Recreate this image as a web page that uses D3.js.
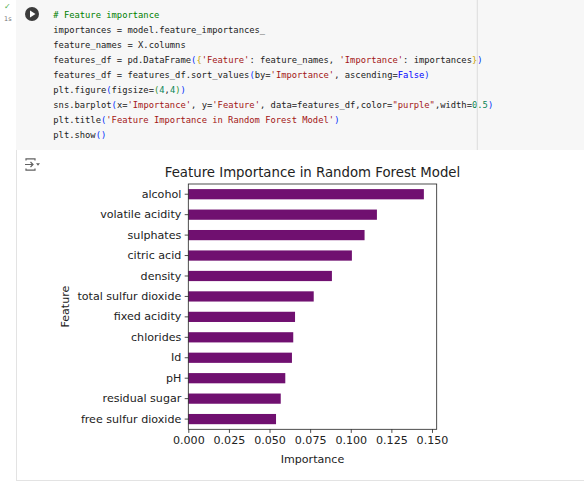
<!DOCTYPE html>
<html>
<head>
<meta charset="utf-8">
<script src="https://cdn.jsdelivr.net/npm/d3@7"></script>
<style>
  html, body { margin: 0; padding: 0; background: #ffffff; }
  svg { display: block; }
  .code text { white-space: pre; }
</style>
</head>
<body>
<svg id="chart" width="584" height="481"></svg>
<script>
// ---------- data ----------
const features = ["alcohol", "volatile acidity", "sulphates", "citric acid", "density",
  "total sulfur dioxide", "fixed acidity", "chlorides", "Id", "pH",
  "residual sugar", "free sulfur dioxide"];
const importances = [0.1450, 0.1161, 0.1085, 0.1007, 0.0884, 0.0772,
  0.0657, 0.0646, 0.0638, 0.0597, 0.0569, 0.0540];
const xTicks = [0.000, 0.025, 0.050, 0.075, 0.100, 0.125, 0.150];
const chartTitle = "Feature Importance in Random Forest Model";
const xLabel = "Importance";
const yLabel = "Feature";

// code cell text: [text, kind]
const codeLines = [
  [["# Feature importance", "c"]],
  [["importances = model.feature_importances_", "d"]],
  [["feature_names = X.columns", "d"]],
  [["features_df = pd.DataFrame", "d"], ["(", "b1"], ["{", "b3"], ["'Feature'", "s"], [": feature_names, ", "d"], ["'Importance'", "s"], [": importances", "d"], ["}", "b3"], [")", "b1"]],
  [["features_df = features_df.sort_values", "d"], ["(", "b1"], ["by=", "d"], ["'Importance'", "s"], [", ascending=", "d"], ["False", "k"], [")", "b1"]],
  [["plt.figure", "d"], ["(", "b1"], ["figsize=", "d"], ["(", "b2"], ["4", "n"], [",", "d"], ["4", "n"], [")", "b2"], [")", "b1"]],
  [["sns.barplot", "d"], ["(", "b1"], ["x=", "d"], ["'Importance'", "s"], [", y=", "d"], ["'Feature'", "s"], [", data=features_df,color=", "d"], ["\"purple\"", "s"], [",width=", "d"], ["0.5", "n"], [")", "b1"]],
  [["plt.title", "d"], ["(", "b1"], ["'Feature Importance in Random Forest Model'", "s"], [")", "b1"]],
  [["plt.show", "d"], ["(", "b1"], [")", "b1"]]
];
const tokenColor = { d: "#212121", c: "#008000", s: "#a31515", n: "#098658", k: "#0000ff",
  b1: "#0431fa", b2: "#319331", b3: "#c7a200" };

const svg = d3.select("#chart");

// ---------- notebook chrome ----------
svg.append("rect").attr("x", 16).attr("y", 0).attr("width", 568).attr("height", 150).attr("fill", "#f7f7f7");
// output area border
svg.append("line").attr("x1", 16.5).attr("x2", 16.5).attr("y1", 150).attr("y2", 480).attr("stroke", "#e3e3e3");
svg.append("line").attr("x1", 16).attr("x2", 584).attr("y1", 480.5).attr("y2", 480.5).attr("stroke", "#e3e3e3");

// execution check + time
svg.append("text").attr("x", 4).attr("y", 9).attr("font-family", "DejaVu Sans").attr("font-size", 8)
  .attr("fill", "#4caf50").text("✓");
svg.append("text").attr("x", 4).attr("y", 21).attr("font-family", "DejaVu Sans").attr("font-size", 6.5)
  .attr("fill", "#757575").text("1s");
// run button
svg.append("circle").attr("cx", 32).attr("cy", 14).attr("r", 7).attr("fill", "#3c3c3c");
svg.append("path").attr("d", "M30,10.5 L30,17.5 L35.5,14 Z").attr("fill", "#ffffff");

// code text
const cw = 5.3, codeX = 53.3, codeFont = 8.8;
const code = svg.append("g").attr("class", "code");
codeLines.forEach((toks, i) => {
  const t = code.append("text")
    .attr("x", codeX).attr("y", 17.8 + i * 15.08)
    .attr("font-family", "DejaVu Sans Mono").attr("font-size", codeFont);
  let col = 0;
  toks.forEach(([txt, k]) => {
    t.append("tspan").attr("x", codeX + col * cw).attr("fill", tokenColor[k]).text(txt);
    col += txt.length;
  });
});
// ruler at column 80
svg.append("line").attr("x1", codeX + 80 * cw).attr("x2", codeX + 80 * cw)
  .attr("y1", 0).attr("y2", 150).attr("stroke", "#dcdcdc").attr("stroke-width", 1);

// output icon
const icon = svg.append("g").attr("fill", "none").attr("stroke", "#616161").attr("stroke-width", 1.2);
icon.append("path").attr("d", "M26,160.5 V158.8 H35 V160.5");
icon.append("path").attr("d", "M25,164.5 H33 M30.5,162 L33,164.5 L30.5,167");
icon.append("path").attr("d", "M26,168.5 V170.2 H35 V168.5");
svg.append("path").attr("d", "M36,163.3 L40,163.3 L38,165.8 Z").attr("fill", "#616161");

// ---------- chart ----------
const axL = 188.3, axR = 436.7, axT = 184, axB = 429.3;
const x = d3.scaleLinear().domain([0, 0.1529]).range([axL, axR]);
const y = d3.scaleBand().domain(features).range([axT, axB]).paddingInner(0.5).paddingOuter(0.25);

const font = "DejaVu Sans";
const tickFs = 11.1;

svg.append("g").selectAll("rect").data(features).join("rect")
  .attr("x", x(0))
  .attr("y", d => y(d))
  .attr("width", (d, i) => x(importances[i]) - x(0))
  .attr("height", y.bandwidth())
  .attr("fill", "#701070");

// axes
const xAxis = svg.append("g").attr("transform", `translate(0,${axB})`)
  .call(d3.axisBottom(x).tickValues(xTicks).tickFormat(d3.format(".3f")).tickSize(3.6).tickPadding(3.2));
const yAxis = svg.append("g").attr("transform", `translate(${axL},0)`)
  .call(d3.axisLeft(y).tickSize(3.6).tickPadding(3.4));
[xAxis, yAxis].forEach(g => {
  g.select(".domain").remove();
  g.selectAll(".tick line").attr("stroke", "#222").attr("stroke-width", 0.8);
  g.selectAll(".tick text").attr("font-family", font).attr("font-size", tickFs).attr("fill", "#222");
});

// spines
svg.append("rect").attr("x", axL).attr("y", axT).attr("width", axR - axL).attr("height", axB - axT)
  .attr("fill", "none").attr("stroke", "#222").attr("stroke-width", 0.8);

// title and labels
svg.append("text").attr("x", (axL + axR) / 2).attr("y", 177).attr("text-anchor", "middle")
  .attr("font-family", font).attr("font-size", 13.3).attr("fill", "#222").text(chartTitle);
svg.append("text").attr("x", (axL + axR) / 2).attr("y", 463).attr("text-anchor", "middle")
  .attr("font-family", font).attr("font-size", tickFs).attr("fill", "#222").text(xLabel);
svg.append("text").attr("transform", `translate(69,${(axT + axB) / 2}) rotate(-90)`).attr("text-anchor", "middle")
  .attr("font-family", font).attr("font-size", tickFs).attr("fill", "#222").text(yLabel);
</script>
</body>
</html>
